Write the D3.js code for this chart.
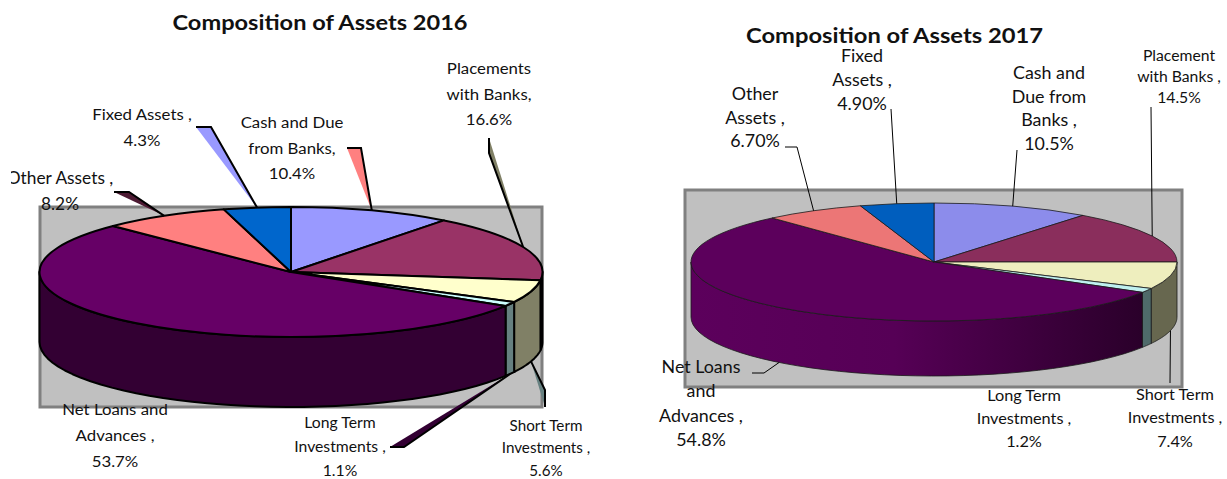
<!DOCTYPE html>
<html>
<head>
<meta charset="utf-8">
<script src="https://cdn.jsdelivr.net/npm/d3@7"></script>
<style>
html, body { margin: 0; background: #fff; }
svg { display: block; }
text { font-family: Lato, "Open Sans", sans-serif; fill: #111; }
</style>
</head>
<body>
<svg id="chart" width="1227" height="479"></svg>
<script>
// slices go clockwise from 12 o'clock
var categories = ["Cash and Due from Banks", "Placements with Banks", "Short Term Investments",
  "Long Term Investments", "Net Loans and Advances", "Other Assets", "Fixed Assets"];
var values2016 = [10.4, 16.6, 5.6, 1.1, 53.7, 8.2, 4.3];
var values2017 = [10.5, 14.5, 7.4, 1.2, 54.8, 6.7, 4.9];

var colors2016 = ["#9999ff", "#993366", "#ffffcc", "#ccffff", "#660066", "#ff8080", "#0066cc"];
var walls2016 = ["#4d4d80", "#4d1a33", "#808066", "#668080", "#330033", "#804040", "#003366"];
var colors2017 = ["#8c8ceb", "#8a2e5c", "#eeeebe", "#bff0f0", "#5c005c", "#ec7676", "#005ebe"];
var walls2017 = ["#46467a", "#45172e", "#67674f", "#4f6a6a", "url(#netWall)", "#763b3b", "#002f5f"];

var title2016 = "Composition of Assets 2016";
var title2017 = "Composition of Assets 2017";

// label text, one entry per line
var labels2016 = [
  ["Placements", "with Banks,", "16.6%"],
  ["Fixed Assets ,", "4.3%"],
  ["Cash and Due", "from Banks,", "10.4%"],
  ["Other Assets ,", "8.2%"],
  ["Net Loans and", "Advances ,", "53.7%"],
  ["Long Term", "Investments ,", "1.1%"],
  ["Short Term", "Investments ,", "5.6%"]
];
var labels2017 = [
  ["Fixed", "Assets ,", "4.90%"],
  ["Cash and", "Due from", "Banks ,", "10.5%"],
  ["Placement", "with Banks ,", "14.5%"],
  ["Other", "Assets ,", "6.70%"],
  ["Net Loans", "and", "Advances ,", "54.8%"],
  ["Long Term", "Investments ,", "1.2%"],
  ["Short Term", "Investments ,", "7.4%"]
];

// where the label blocks sit: x centre, first baseline, line step, font size
var labelPos2016 = [
  [489, 74, 25.7, 16], [142, 120, 26, 16], [292, 128, 25.5, 16], [60, 184, 26, 16.5],
  [115, 415, 26, 16], [340, 428, 24, 15], [546, 431, 22.3, 14.5]
];
var labelPos2017 = [
  [862, 62, 24, 17], [1049, 79, 23.7, 17], [1179, 61, 21, 15],
  [755, 100, 23.5, 17], [701, 373, 24.4, 17], [1024, 401, 23, 15.5], [1175, 400, 23.3, 15.5]
];

var svg = d3.select("#chart");

var defs = svg.append("defs");
var grad = defs.append("linearGradient").attr("id", "netWall");
grad.append("stop").attr("offset", "0").attr("stop-color", "#5c005c");
grad.append("stop").attr("offset", "0.45").attr("stop-color", "#560056");
grad.append("stop").attr("offset", "1").attr("stop-color", "#2a002a");
defs.append("clipPath").attr("id", "cutLeft").append("rect")
  .attr("x", 11).attr("y", 0).attr("width", 300).attr("height", 479);

function drawPie(o) {
  var g = svg.append("g");

  g.append("rect")
    .attr("x", o.box[0]).attr("y", o.box[1])
    .attr("width", o.box[2] - o.box[0]).attr("height", o.box[3] - o.box[1])
    .attr("fill", "#c0c0c0")
    .attr("stroke", "#808080")
    .attr("stroke-width", 3);

  var arcs = d3.pie().sort(null)(o.values);

  function px(a) { return o.cx + o.rx * Math.sin(a); }
  function py(a, drop) { return o.cy - o.ry * Math.cos(a) + (drop || 0); }

  var line = d3.line();

  // front walls, only the part of a slice between 3 and 9 o'clock shows
  arcs.forEach(function (d, i) {
    var a0 = Math.max(d.startAngle, Math.PI / 2),
        a1 = Math.min(d.endAngle, Math.PI * 1.5);
    if (a1 <= a0) return;
    var steps = d3.range(0, 41).map(function (k) { return a0 + (a1 - a0) * k / 40; });
    var pts = steps.map(function (a) { return [px(a), py(a)]; })
      .concat(steps.slice().reverse().map(function (a) { return [px(a), py(a, o.depth)]; }));
    g.append("path")
      .attr("d", line(pts) + "Z")
      .attr("fill", o.walls[i])
      .attr("stroke", o.stroke)
      .attr("stroke-width", o.strokeW)
      .attr("stroke-linejoin", "round");
  });

  // top faces
  var arc = d3.arc().innerRadius(0).outerRadius(o.rx);
  g.append("g")
    .attr("transform", "translate(" + o.cx + "," + o.cy + ") scale(1," + (o.ry / o.rx) + ")")
    .selectAll("path")
    .data(arcs)
    .enter().append("path")
    .attr("d", arc)
    .attr("fill", function (d, i) { return o.colors[i]; })
    .attr("stroke", o.stroke)
    .attr("stroke-width", o.strokeW)
    .attr("stroke-linejoin", "round")
    .attr("vector-effect", "non-scaling-stroke");

  // leaders run from the label elbow to the middle of the slice rim
  o.leaders.forEach(function (l) {
    var mid = (arcs[l.slice].startAngle + arcs[l.slice].endAngle) / 2;
    var drop = l.wall ? o.depth : 0;
    g.append("path")
      .attr("d", line(l.from.concat([[px(mid), py(mid, drop)]])))
      .attr("fill", l.fill || "none")
      .attr("stroke", "#000")
      .attr("stroke-width", o.leaderW);
  });

  g.append("text")
    .attr("text-anchor", "middle")
    .attr("x", o.titlePos[0])
    .attr("y", o.titlePos[1])
    .attr("font-weight", "bold")
    .attr("font-size", o.titleSize)
    .attr("textLength", o.titleWidth)
    .attr("lengthAdjust", "spacingAndGlyphs")
    .text(o.title);

  o.labels.forEach(function (lines, i) {
    var p = o.labelPos[i];
    var t = g.append("g");
    if (o.clipLabel === i) t.attr("clip-path", "url(#cutLeft)");
    t.selectAll("text")
      .data(lines)
      .enter().append("text")
      .attr("text-anchor", "middle")
      .attr("font-size", p[3])
      .attr("transform", function (d, k) {
        return "translate(" + p[0] + "," + (p[1] + k * p[2]) + ") scale(" + o.squeeze + ",1)";
      })
      .text(function (d) { return d; });
  });
}

drawPie({
  title: title2016, titlePos: [320, 30], titleSize: 20, titleWidth: 295, squeeze: 1.05,
  values: values2016, colors: colors2016, walls: walls2016,
  cx: 291, cy: 272, rx: 251.5, ry: 65, depth: 70,
  box: [40, 207, 542, 407],
  stroke: "#000", strokeW: 2, leaderW: 2,
  labels: labels2016, labelPos: labelPos2016, clipLabel: 3,
  leaders: [
    { slice: 0, from: [[347, 148], [361, 148]], fill: "#ff8080" },
    { slice: 1, from: [[489, 138], [489, 153]], fill: "#808066" },
    { slice: 5, from: [[114, 192], [129, 192]], fill: "#4d1a33" },
    { slice: 6, from: [[196, 127], [211, 127]], fill: "#9999ff" },
    { slice: 2, from: [[545, 407], [545, 390]], fill: "#668080", wall: true },
    { slice: 3, from: [[390, 447], [404, 447]], fill: "#330033", wall: true }
  ]
});

drawPie({
  title: title2017, titlePos: [894.5, 42.5], titleSize: 20, titleWidth: 297, squeeze: 1.05,
  values: values2017, colors: colors2017, walls: walls2017,
  cx: 934, cy: 262, rx: 243, ry: 59, depth: 55,
  box: [685, 190, 1182, 387],
  stroke: "#1a1a1a", strokeW: 0.8, leaderW: 1,
  labels: labels2017, labelPos: labelPos2017, clipLabel: -1,
  leaders: [
    { slice: 0, from: [[1017, 150]] },
    { slice: 1, from: [[1151, 107]] },
    { slice: 5, from: [[785, 147], [797, 147]] },
    { slice: 6, from: [[891, 109]] },
    { slice: 2, from: [[1170, 383]], wall: true },
    { slice: 4, from: [[752, 373], [764, 373]], wall: true }
  ]
});
</script>
</body>
</html>
